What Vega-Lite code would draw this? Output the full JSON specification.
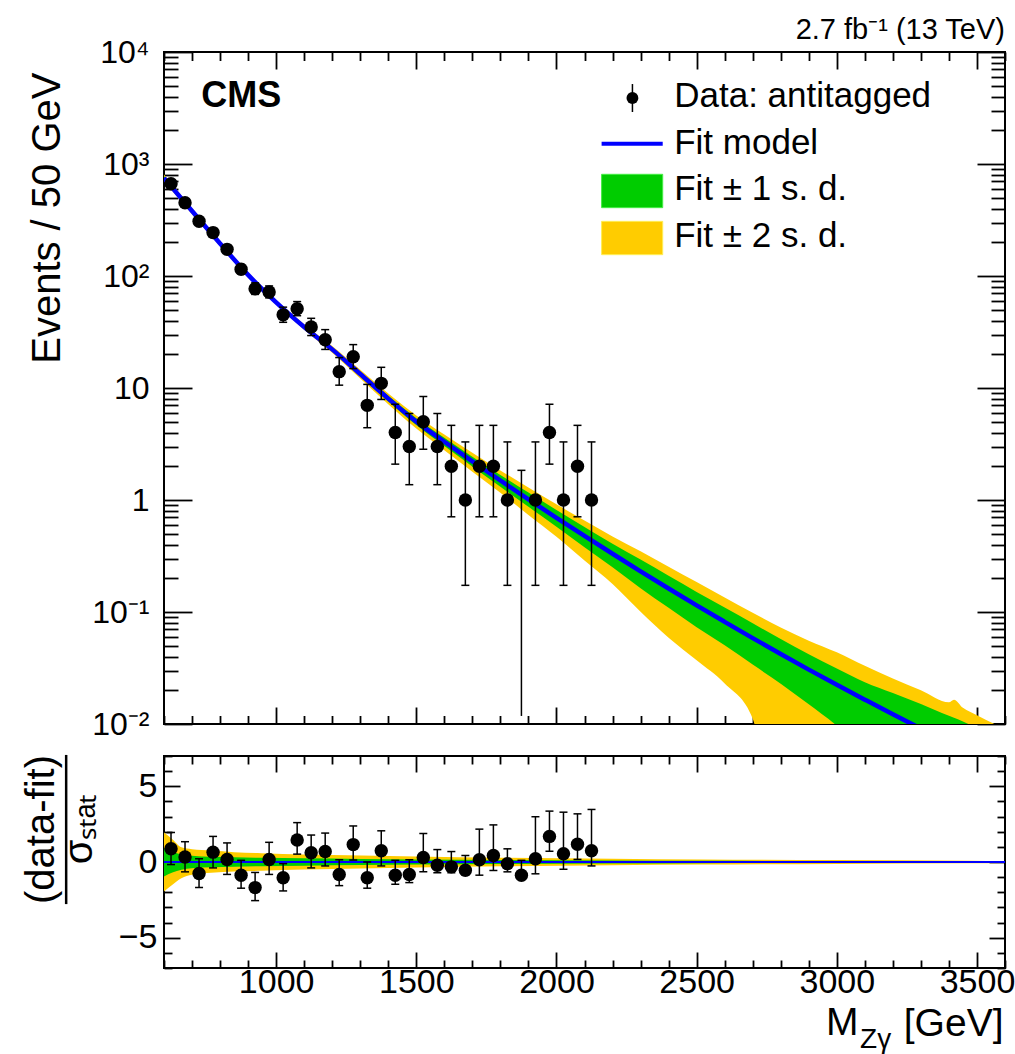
{
  "$schema": "https://vega.github.io/schema/vega-lite/v6.json",
  "background": "white",
  "padding": {"left": 20, "top": 15, "right": 8, "bottom": 0},
  "spacing": 11,
  "config": {
    "view": {"stroke": "black", "strokeWidth": 2},
    "font": "Liberation Sans",
    "axis": {"domain": false, "grid": false, "tickColor": "black", "tickWidth": 1.8, "labelColor": "black", "titleColor": "black", "labelFont": "Liberation Sans", "titleFont": "Liberation Sans", "titleFontWeight": "normal", "labelOverlap": false, "labelBound": false, "labelFlush": false}
  },
  "resolve": {"scale": {"x": "independent", "y": "independent"}},
  "datasets": {
    "bins": [
      {"m": 625, "n": 667, "lo": 641.5, "hi": 694, "pull": 0.87, "plo": -0.17, "phi": 1.95},
      {"m": 675, "n": 451, "lo": 430, "hi": 473, "pull": 0.33, "plo": -0.65, "phi": 1.34},
      {"m": 725, "n": 308, "lo": 291, "hi": 327, "pull": -0.76, "plo": -1.69, "phi": 0.22},
      {"m": 775, "n": 244, "lo": 228.7, "hi": 260.6, "pull": 0.65, "plo": -0.39, "phi": 1.69},
      {"m": 825, "n": 173, "lo": 160, "hi": 187, "pull": 0.17, "plo": -0.82, "phi": 1.26},
      {"m": 875, "n": 115, "lo": 104.6, "hi": 126.7, "pull": -0.87, "plo": -1.73, "phi": 0.11},
      {"m": 925, "n": 77, "lo": 68.5, "hi": 86.8, "pull": -1.69, "plo": -2.55, "phi": -0.69},
      {"m": 975, "n": 72, "lo": 63.8, "hi": 81.5, "pull": 0.17, "plo": -0.82, "phi": 1.3},
      {"m": 1025, "n": 45, "lo": 38.6, "hi": 52.7, "pull": -1.04, "plo": -1.91, "phi": -0.11},
      {"m": 1075, "n": 51, "lo": 44.2, "hi": 59.1, "pull": 1.45, "plo": 0.52, "phi": 2.6},
      {"m": 1125, "n": 35, "lo": 29.4, "hi": 41.9, "pull": 0.61, "plo": -0.39, "phi": 1.78},
      {"m": 1175, "n": 27, "lo": 22.1, "hi": 33.2, "pull": 0.69, "plo": -0.26, "phi": 1.91},
      {"m": 1225, "n": 14, "lo": 10.6, "hi": 18.7, "pull": -0.82, "plo": -1.56, "phi": 0.15},
      {"m": 1275, "n": 19, "lo": 14.9, "hi": 24.4, "pull": 1.15, "plo": 0.13, "phi": 2.38},
      {"m": 1325, "n": 7, "lo": 4.42, "hi": 10.77, "pull": -1.04, "plo": -1.73, "phi": 0.0},
      {"m": 1375, "n": 11, "lo": 7.9, "hi": 15.3, "pull": 0.74, "plo": -0.26, "phi": 2.06},
      {"m": 1425, "n": 4, "lo": 2.09, "hi": 7.16, "pull": -0.87, "plo": -1.47, "phi": 0.11},
      {"m": 1475, "n": 3, "lo": 1.37, "hi": 5.92, "pull": -0.82, "plo": -1.36, "phi": 0.15},
      {"m": 1525, "n": 5, "lo": 2.84, "hi": 8.38, "pull": 0.3, "plo": -0.65, "phi": 1.88},
      {"m": 1575, "n": 3, "lo": 1.37, "hi": 5.92, "pull": -0.22, "plo": -0.71, "phi": 0.82},
      {"m": 1625, "n": 2, "lo": 0.708, "hi": 4.64, "pull": -0.32, "plo": -0.71, "phi": 0.69},
      {"m": 1675, "n": 1, "lo": 0.173, "hi": 3.3, "pull": -0.54, "plo": -0.87, "phi": 0.43},
      {"m": 1725, "n": 2, "lo": 0.708, "hi": 4.64, "pull": 0.15, "plo": -0.87, "phi": 2.17},
      {"m": 1775, "n": 2, "lo": 0.708, "hi": 4.64, "pull": 0.43, "plo": -0.56, "phi": 2.45},
      {"m": 1825, "n": 1, "lo": 0.173, "hi": 3.3, "pull": -0.11, "plo": -0.65, "phi": 0.87},
      {"m": 1875, "n": 0, "lo": 0.0118, "hi": 1.84, "pull": -0.87, "plo": -0.87, "phi": 0.11},
      {"m": 1925, "n": 1, "lo": 0.173, "hi": 3.3, "pull": 0.22, "plo": -0.78, "phi": 2.99},
      {"m": 1975, "n": 4, "lo": 2.09, "hi": 7.16, "pull": 1.69, "plo": 0.71, "phi": 3.36},
      {"m": 2025, "n": 1, "lo": 0.173, "hi": 3.3, "pull": 0.54, "plo": -0.48, "phi": 3.29},
      {"m": 2075, "n": 2, "lo": 0.708, "hi": 4.64, "pull": 1.17, "plo": 0.17, "phi": 3.18},
      {"m": 2125, "n": 1, "lo": 0.173, "hi": 3.3, "pull": 0.74, "plo": -0.26, "phi": 3.47}
    ],
    "fit": [
      {"m": 600, "fit": 750, "g_lo": 724, "g_hi": 776, "y_lo": 700, "y_hi": 804},
      {"m": 700, "fit": 380, "g_lo": 368, "g_hi": 393, "y_lo": 356, "y_hi": 405},
      {"m": 800, "fit": 195, "g_lo": 189.7, "g_hi": 200.4, "y_lo": 184.1, "y_hi": 206.5},
      {"m": 900, "fit": 102.3, "g_lo": 99.8, "g_hi": 105.0, "y_lo": 97.3, "y_hi": 107.6},
      {"m": 1000, "fit": 58.2, "g_lo": 56.89, "g_hi": 59.57, "y_lo": 55.59, "y_hi": 60.95},
      {"m": 1100, "fit": 35.08, "g_lo": 34.12, "g_hi": 36.06, "y_lo": 33.11, "y_hi": 37.15},
      {"m": 1200, "fit": 22.13, "g_lo": 21.38, "g_hi": 22.91, "y_lo": 20.65, "y_hi": 23.71},
      {"m": 1300, "fit": 13.34, "g_lo": 12.74, "g_hi": 13.96, "y_lo": 12.16, "y_hi": 14.52},
      {"m": 1400, "fit": 8.04, "g_lo": 7.59, "g_hi": 8.51, "y_lo": 7.16, "y_hi": 8.91},
      {"m": 1500, "fit": 5.01, "g_lo": 4.67, "g_hi": 5.37, "y_lo": 4.345, "y_hi": 5.69},
      {"m": 1600, "fit": 3.31, "g_lo": 3.041, "g_hi": 3.589, "y_lo": 2.786, "y_hi": 3.846},
      {"m": 1700, "fit": 2.213, "g_lo": 1.995, "g_hi": 2.438, "y_lo": 1.791, "y_hi": 2.642},
      {"m": 1800, "fit": 1.493, "g_lo": 1.315, "g_hi": 1.675, "y_lo": 1.159, "y_hi": 1.837},
      {"m": 1900, "fit": 1.014, "g_lo": 0.869, "g_hi": 1.164, "y_lo": 0.7345, "y_hi": 1.291},
      {"m": 2000, "fit": 0.6934, "g_lo": 0.5768, "g_hi": 0.8147, "y_lo": 0.4688, "y_hi": 0.9141},
      {"m": 2100, "fit": 0.4775, "g_lo": 0.3793, "g_hi": 0.5741, "y_lo": 0.2877, "y_hi": 0.6546},
      {"m": 2200, "fit": 0.3311, "g_lo": 0.2512, "g_hi": 0.4074, "y_lo": 0.1778, "y_hi": 0.4732},
      {"m": 2300, "fit": 0.2307, "g_lo": 0.1633, "g_hi": 0.2938, "y_lo": 0.1007, "y_hi": 0.3491},
      {"m": 2400, "fit": 0.1622, "g_lo": 0.1091, "g_hi": 0.2104, "y_lo": 0.0589, "y_hi": 0.2541},
      {"m": 2500, "fit": 0.1146, "g_lo": 0.0731, "g_hi": 0.151, "y_lo": 0.0371, "y_hi": 0.1854},
      {"m": 2600, "fit": 0.0817, "g_lo": 0.0504, "g_hi": 0.1096, "y_lo": 0.023, "y_hi": 0.1349},
      {"m": 2700, "fit": 0.0585, "g_lo": 0.0339, "g_hi": 0.0793, "y_lo": 0.01114, "y_hi": 0.0986},
      {"m": 2800, "fit": 0.0422, "g_lo": 0.0229, "g_hi": 0.0574, "y_lo": 0.001, "y_hi": 0.0729},
      {"m": 2900, "fit": 0.0306, "g_lo": 0.015, "g_hi": 0.042, "y_lo": 0.001, "y_hi": 0.0555},
      {"m": 3000, "fit": 0.0224, "g_lo": 0.00966, "g_hi": 0.0313, "y_lo": 0.001, "y_hi": 0.0437},
      {"m": 3100, "fit": 0.0165, "g_lo": 0.00585, "g_hi": 0.0236, "y_lo": 0.001, "y_hi": 0.0331},
      {"m": 3200, "fit": 0.0122, "g_lo": 0.00385, "g_hi": 0.0189, "y_lo": 0.001, "y_hi": 0.0255},
      {"m": 3300, "fit": 0.0091, "g_lo": 0.00256, "g_hi": 0.0151, "y_lo": 0.001, "y_hi": 0.02},
      {"m": 3400, "fit": 0.00682, "g_lo": 0.00171, "g_hi": 0.01186, "y_lo": 0.001, "y_hi": 0.0156},
      {"m": 3418, "fit": 0.00649, "g_lo": 0.0016, "g_hi": 0.0114, "y_lo": 0.001, "y_hi": 0.0165},
      {"m": 3450, "fit": 0.00593, "g_lo": 0.0015, "g_hi": 0.01054, "y_lo": 0.001, "y_hi": 0.01396},
      {"m": 3500, "fit": 0.00515, "g_lo": 0.0012, "g_hi": 0.00916, "y_lo": 0.0008, "y_hi": 0.012},
      {"m": 3600, "fit": 0.00392, "g_lo": 0.0009, "g_hi": 0.00697, "y_lo": 0.0005, "y_hi": 0.00897}
    ],
    "pullband": [
      {"m": 600, "g_lo": -0.95, "g_hi": 0.9, "y_lo": -1.95, "y_hi": 1.95},
      {"m": 630, "g_lo": -0.7, "g_hi": 0.7, "y_lo": -1.5, "y_hi": 1.5},
      {"m": 662, "g_lo": -0.52, "g_hi": 0.5, "y_lo": -1.08, "y_hi": 0.97},
      {"m": 700, "g_lo": -0.42, "g_hi": 0.42, "y_lo": -0.85, "y_hi": 0.85},
      {"m": 769, "g_lo": -0.35, "g_hi": 0.35, "y_lo": -0.71, "y_hi": 0.76},
      {"m": 850, "g_lo": -0.31, "g_hi": 0.31, "y_lo": -0.63, "y_hi": 0.65},
      {"m": 948, "g_lo": -0.28, "g_hi": 0.28, "y_lo": -0.58, "y_hi": 0.58},
      {"m": 1100, "g_lo": -0.24, "g_hi": 0.24, "y_lo": -0.5, "y_hi": 0.5},
      {"m": 1305, "g_lo": -0.2, "g_hi": 0.2, "y_lo": -0.43, "y_hi": 0.43},
      {"m": 1500, "g_lo": -0.17, "g_hi": 0.17, "y_lo": -0.36, "y_hi": 0.36},
      {"m": 1805, "g_lo": -0.13, "g_hi": 0.13, "y_lo": -0.28, "y_hi": 0.28},
      {"m": 2200, "g_lo": -0.1, "g_hi": 0.1, "y_lo": -0.22, "y_hi": 0.22},
      {"m": 2519, "g_lo": -0.08, "g_hi": 0.08, "y_lo": -0.17, "y_hi": 0.17},
      {"m": 3000, "g_lo": -0.06, "g_hi": 0.06, "y_lo": -0.13, "y_hi": 0.13},
      {"m": 3473, "g_lo": -0.045, "g_hi": 0.045, "y_lo": -0.09, "y_hi": 0.09},
      {"m": 3600, "g_lo": -0.035, "g_hi": 0.035, "y_lo": -0.07, "y_hi": 0.07}
    ]
  },
  "vconcat": [
    {
      "width": 841,
      "height": 672,
      "title": {"text": "2.7 fb⁻¹ (13 TeV)", "anchor": "end", "frame": "group", "fontSize": 29, "fontWeight": "normal", "font": "Liberation Sans", "offset": -9, "color": "black"},
      "resolve": {"axis": {"x": "independent", "y": "independent"}},
      "layer": [
        {
          "data": {"name": "fit"},
          "mark": {"type": "area", "clip": true, "interpolate": "monotone", "opacity": 1, "color": "#ffcc00"},
          "encoding": {
            "x": {"field": "m", "type": "quantitative", "scale": {"domain": [600, 3600], "nice": false, "zero": false},
              "axis": {"orient": "bottom", "values": [600,700,800,900,1000,1100,1200,1300,1400,1500,1600,1700,1800,1900,2000,2100,2200,2300,2400,2500,2600,2700,2800,2900,3000,3100,3200,3300,3400,3500,3600], "labels": false, "title": null,
                "tickSize": {"condition": {"test": "datum.value % 500 === 0", "value": -17}, "value": -8.5}}},
            "y": {"field": "y_lo", "type": "quantitative", "scale": {"type": "log", "domain": [0.01, 10000], "nice": false},
              "axis": {"orient": "left", "values": [0.01,0.02,0.03,0.04,0.05,0.06,0.07,0.08,0.09,0.1,0.2,0.3,0.4,0.5,0.6,0.7,0.8,0.9,1,2,3,4,5,6,7,8,9,10,20,30,40,50,60,70,80,90,100,200,300,400,500,600,700,800,900,1000,2000,3000,4000,5000,6000,7000,8000,9000,10000],
                "tickSize": {"condition": {"test": "datum.value === 0.01 || datum.value === 0.1 || datum.value === 1 || datum.value === 10 || datum.value === 100 || datum.value === 1000 || datum.value === 10000", "value": -28}, "value": -14},
                "labelExpr": "datum.value === 10000 ? '10⁴' : datum.value === 1000 ? '10³' : datum.value === 100 ? '10²' : datum.value === 10 ? '10' : datum.value === 1 ? '1' : datum.value === 0.1 ? '10⁻¹' : datum.value === 0.01 ? '10⁻²' : ''",
                "labelFontSize": 32, "labelPadding": 43,
                "title": "Events / 50 GeV", "titleFontSize": 40, "titleAngle": 270, "titleAlign": "right", "titleBaseline": "alphabetic", "titleX": -105, "titleY": 20}},
            "y2": {"field": "y_hi"}
          }
        },
        {
          "data": {"name": "fit"},
          "mark": {"type": "area", "clip": true, "interpolate": "monotone", "opacity": 1, "color": "#00cc00"},
          "encoding": {
            "x": {"field": "m", "type": "quantitative",
              "axis": {"orient": "top", "values": [600,700,800,900,1000,1100,1200,1300,1400,1500,1600,1700,1800,1900,2000,2100,2200,2300,2400,2500,2600,2700,2800,2900,3000,3100,3200,3300,3400,3500,3600], "labels": false, "title": null,
                "tickSize": {"condition": {"test": "datum.value % 500 === 0", "value": -17}, "value": -8.5}}},
            "y": {"field": "g_lo", "type": "quantitative",
              "axis": {"orient": "right", "values": [0.01,0.02,0.03,0.04,0.05,0.06,0.07,0.08,0.09,0.1,0.2,0.3,0.4,0.5,0.6,0.7,0.8,0.9,1,2,3,4,5,6,7,8,9,10,20,30,40,50,60,70,80,90,100,200,300,400,500,600,700,800,900,1000,2000,3000,4000,5000,6000,7000,8000,9000,10000], "labels": false, "title": null,
                "tickSize": {"condition": {"test": "datum.value === 0.01 || datum.value === 0.1 || datum.value === 1 || datum.value === 10 || datum.value === 100 || datum.value === 1000 || datum.value === 10000", "value": -28}, "value": -14}}},
            "y2": {"field": "g_hi"}
          }
        },
        {
          "data": {"name": "fit"},
          "mark": {"type": "line", "clip": true, "interpolate": "monotone", "strokeWidth": 4.5, "color": "#0000ff"},
          "encoding": {
            "x": {"field": "m", "type": "quantitative", "axis": null},
            "y": {"field": "fit", "type": "quantitative", "axis": null}
          }
        },
        {
          "data": {"name": "bins"},
          "mark": {"type": "rule", "clip": true, "strokeWidth": 1.5, "color": "black"},
          "encoding": {
            "x": {"field": "m", "type": "quantitative", "axis": null},
            "y": {"field": "lo", "type": "quantitative", "axis": null},
            "y2": {"field": "hi"}
          }
        },
        {
          "data": {"name": "bins"},
          "mark": {"type": "tick", "clip": true, "orient": "horizontal", "size": 8, "thickness": 1.5, "opacity": 1, "color": "black"},
          "encoding": {
            "x": {"field": "m", "type": "quantitative", "axis": null},
            "y": {"field": "hi", "type": "quantitative", "axis": null}
          }
        },
        {
          "data": {"name": "bins"},
          "transform": [{"filter": "datum.n > 0"}],
          "mark": {"type": "tick", "clip": true, "orient": "horizontal", "size": 8, "thickness": 1.5, "opacity": 1, "color": "black"},
          "encoding": {
            "x": {"field": "m", "type": "quantitative", "axis": null},
            "y": {"field": "lo", "type": "quantitative", "axis": null}
          }
        },
        {
          "data": {"name": "bins"},
          "transform": [{"filter": "datum.n > 0"}],
          "mark": {"type": "point", "shape": "circle", "filled": true, "size": 180, "opacity": 1, "clip": true, "color": "black"},
          "encoding": {
            "x": {"field": "m", "type": "quantitative", "axis": null},
            "y": {"field": "n", "type": "quantitative", "axis": null}
          }
        },
        {
          "data": {"values": [{}]},
          "mark": {"type": "text", "text": "CMS", "font": "Liberation Sans", "fontWeight": "bold", "fontSize": 36, "align": "left", "baseline": "alphabetic", "color": "black"},
          "encoding": {
            "x": {"datum": 733, "type": "quantitative", "axis": null},
            "y": {"datum": 3228, "type": "quantitative", "axis": null}
          }
        },
        {
          "data": {"values": [{}]},
          "mark": {"type": "rule", "color": "black", "strokeWidth": 1.5},
          "encoding": {
            "x": {"datum": 2271, "type": "quantitative", "axis": null},
            "y": {"datum": 2911, "type": "quantitative", "axis": null},
            "y2": {"datum": 5176}
          }
        },
        {
          "data": {"values": [{}]},
          "mark": {"type": "point", "shape": "circle", "filled": true, "size": 140, "opacity": 1, "color": "black"},
          "encoding": {
            "x": {"datum": 2271, "type": "quantitative", "axis": null},
            "y": {"datum": 3882, "type": "quantitative", "axis": null}
          }
        },
        {
          "data": {"values": [{}]},
          "mark": {"type": "rule", "color": "#0000ff", "strokeWidth": 4},
          "encoding": {
            "x": {"datum": 2161, "type": "quantitative", "axis": null},
            "x2": {"datum": 2379},
            "y": {"datum": 1517, "type": "quantitative", "axis": null}
          }
        },
        {
          "data": {"values": [{}]},
          "mark": {"type": "rect", "color": "#00cc00", "stroke": "#44ee44", "strokeWidth": 1},
          "encoding": {
            "x": {"datum": 2161, "type": "quantitative", "axis": null},
            "x2": {"datum": 2379},
            "y": {"datum": 407.5, "type": "quantitative", "axis": null},
            "y2": {"datum": 809}
          }
        },
        {
          "data": {"values": [{}]},
          "mark": {"type": "rect", "color": "#ffcc00", "stroke": "#ffee55", "strokeWidth": 1},
          "encoding": {
            "x": {"datum": 2161, "type": "quantitative", "axis": null},
            "x2": {"datum": 2379},
            "y": {"datum": 155, "type": "quantitative", "axis": null},
            "y2": {"datum": 307.6}
          }
        },
        {
          "data": {"values": [{"label": "Data: antitagged", "pos": 3228}, {"label": "Fit model", "pos": 1236}, {"label": "Fit ± 1 s. d.", "pos": 474.5}, {"label": "Fit ± 2 s. d.", "pos": 181.6}]},
          "mark": {"type": "text", "font": "Liberation Sans", "fontSize": 35, "align": "left", "baseline": "alphabetic", "color": "black"},
          "encoding": {
            "x": {"datum": 2420, "type": "quantitative", "axis": null},
            "y": {"field": "pos", "type": "quantitative", "axis": null},
            "text": {"field": "label"}
          }
        }
      ]
    },
    {
      "width": 841,
      "height": 212,
      "resolve": {"axis": {"x": "independent", "y": "independent"}},
      "layer": [
        {
          "data": {"name": "pullband"},
          "mark": {"type": "area", "clip": true, "interpolate": "monotone", "color": "#ffcc00", "opacity": 1},
          "encoding": {
            "x": {"field": "m", "type": "quantitative", "scale": {"domain": [600, 3600], "nice": false, "zero": false},
              "axis": {"orient": "bottom", "values": [600,700,800,900,1000,1100,1200,1300,1400,1500,1600,1700,1800,1900,2000,2100,2200,2300,2400,2500,2600,2700,2800,2900,3000,3100,3200,3300,3400,3500,3600],
                "tickSize": {"condition": {"test": "datum.value % 500 === 0", "value": -16}, "value": -8},
                "labelExpr": "datum.value % 500 === 0 && datum.value >= 1000 ? format(datum.value, 'd') : ''",
                "labelFontSize": 34, "labelPadding": 13,
                "title": "[GeV]", "titleFontSize": 39, "titleAnchor": "end", "titleAlign": "right", "titleBaseline": "alphabetic", "titleX": 839, "titleY": 67}},
            "y": {"field": "y_lo", "type": "quantitative", "scale": {"domain": [-7, 7], "nice": false, "zero": false},
              "axis": {"orient": "left", "values": [-7,-6,-5,-4,-3,-2,-1,0,1,2,3,4,5,6,7],
                "tickSize": {"condition": {"test": "datum.value % 5 === 0", "value": -16}, "value": -8},
                "labelExpr": "datum.value === 5 ? '5' : datum.value === 0 ? '0' : datum.value === -5 ? '−5' : ''",
                "labelFontSize": {"condition": {"test": "datum.value % 5 === 0", "value": 34}, "value": 0},
                "labelPadding": 23,
                "title": ["(data-fit)", "σₛₜₐₜ"], "titleFontSize": 40, "titleLineHeight": 38, "titleAngle": 270, "titleAlign": "center", "titleBaseline": "alphabetic", "titleX": -111, "titleY": 73}},
            "y2": {"field": "y_hi"}
          }
        },
        {
          "data": {"name": "pullband"},
          "mark": {"type": "area", "clip": true, "interpolate": "monotone", "color": "#00cc00", "opacity": 1},
          "encoding": {
            "x": {"field": "m", "type": "quantitative",
              "axis": {"orient": "top", "values": [600,700,800,900,1000,1100,1200,1300,1400,1500,1600,1700,1800,1900,2000,2100,2200,2300,2400,2500,2600,2700,2800,2900,3000,3100,3200,3300,3400,3500,3600], "labels": false, "title": null,
                "tickSize": {"condition": {"test": "datum.value % 500 === 0", "value": -16}, "value": -8}}},
            "y": {"field": "g_lo", "type": "quantitative",
              "axis": {"orient": "right", "values": [-7,-6,-5,-4,-3,-2,-1,0,1,2,3,4,5,6,7], "labels": false, "title": null,
                "tickSize": {"condition": {"test": "datum.value % 5 === 0", "value": -16}, "value": -8}}},
            "y2": {"field": "g_hi"}
          }
        },
        {
          "data": {"values": [{}]},
          "mark": {"type": "rule", "color": "#0000ff", "strokeWidth": 2},
          "encoding": {"y": {"datum": 0, "type": "quantitative", "axis": null}}
        },
        {
          "data": {"name": "bins"},
          "mark": {"type": "rule", "clip": true, "strokeWidth": 1.5, "color": "black"},
          "encoding": {
            "x": {"field": "m", "type": "quantitative", "axis": null},
            "y": {"field": "plo", "type": "quantitative", "axis": null},
            "y2": {"field": "phi"}
          }
        },
        {
          "data": {"name": "bins"},
          "mark": {"type": "tick", "clip": true, "orient": "horizontal", "size": 8, "thickness": 1.5, "color": "black", "opacity": 1},
          "encoding": {
            "x": {"field": "m", "type": "quantitative", "axis": null},
            "y": {"field": "phi", "type": "quantitative", "axis": null}
          }
        },
        {
          "data": {"name": "bins"},
          "transform": [{"filter": "datum.n > 0"}],
          "mark": {"type": "tick", "clip": true, "orient": "horizontal", "size": 8, "thickness": 1.5, "color": "black", "opacity": 1},
          "encoding": {
            "x": {"field": "m", "type": "quantitative", "axis": null},
            "y": {"field": "plo", "type": "quantitative", "axis": null}
          }
        },
        {
          "data": {"name": "bins"},
          "mark": {"type": "point", "shape": "circle", "filled": true, "size": 180, "opacity": 1, "color": "black", "clip": true},
          "encoding": {
            "x": {"field": "m", "type": "quantitative", "axis": null},
            "y": {"field": "pull", "type": "quantitative", "axis": null}
          }
        },
        {
          "data": {"values": [{}]},
          "mark": {"type": "rule", "color": "black", "strokeWidth": 2.5},
          "encoding": {
            "x": {"datum": 251, "type": "quantitative", "axis": null},
            "y": {"datum": 7.07, "type": "quantitative", "axis": null},
            "y2": {"datum": -2.78}
          }
        },
        {
          "data": {"values": [{}]},
          "mark": {"type": "text", "text": "M", "font": "Liberation Sans", "fontSize": 39, "align": "right", "baseline": "alphabetic", "color": "black"},
          "encoding": {
            "x": {"datum": 3077, "type": "quantitative", "axis": null},
            "y": {"datum": -11.45, "type": "quantitative", "axis": null}
          }
        },
        {
          "data": {"values": [{}]},
          "mark": {"type": "text", "text": "Zγ", "font": "Liberation Sans", "fontSize": 28, "align": "left", "baseline": "alphabetic", "color": "black"},
          "encoding": {
            "x": {"datum": 3083, "type": "quantitative", "axis": null},
            "y": {"datum": -12.25, "type": "quantitative", "axis": null}
          }
        }
      ]
    }
  ]
}
